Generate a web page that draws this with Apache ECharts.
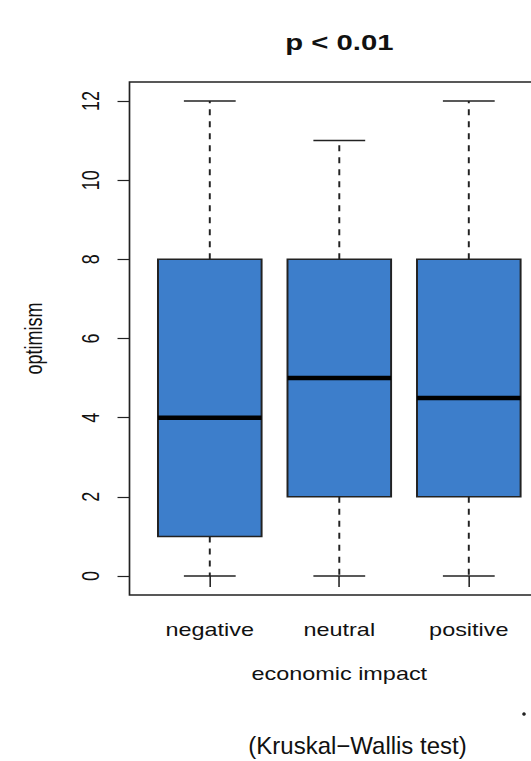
<!DOCTYPE html>
<html>
<head>
<meta charset="utf-8">
<script src="https://cdn.jsdelivr.net/npm/echarts@6/dist/echarts.min.js"></script>
<style>
  html, body { margin: 0; padding: 0; background: #fff; }
  #wrap { width: 531px; height: 761px; overflow: hidden; position: relative; }
  /* The plot is drawn on a narrower canvas and widened, giving the broad R-device look */
  #chart { width: 408px; height: 761px; transform: scaleX(1.30147); transform-origin: 0 0; }
</style>
</head>
<body>
<div id="wrap"><div id="chart"></div></div>
<script>
// Groups on the x axis
const categories = ['negative', 'neutral', 'positive'];
// Five-number summaries of optimism score per group
const whiskerLow = [0, 0, 0];
const quartile1  = [1, 2, 2];
const medians    = [4, 5, 4.5];
const quartile3  = [8, 8, 8];
const whiskerHigh = [12, 11, 12];
// Y axis ticks
const yTicks = [0, 2, 4, 6, 8, 10, 12];

const titleText = 'p < 0.01';
const xTitle = 'economic impact';
const yTitle = 'optimism';
const captionText = '(Kruskal\u2212Wallis test)';

const SX = 531 / 408;           // horizontal widening applied by CSS
const FONT = "'Liberation Sans', Arial, Helvetica, sans-serif";
const INK = '#111';
const BOX_FILL = '#3d7ecb';
const BOX_HALF = 0.4;           // half box width in axis units
const CAP_HALF = 0.2;           // half whisker-cap width

const rows = categories.map((c, i) => [i + 1, whiskerLow[i], quartile1[i], medians[i], quartile3[i], whiskerHigh[i]]);
const xPositions = categories.map((c, i) => i + 1);

const chart = echarts.init(document.getElementById('chart'), null, { renderer: 'svg' });

chart.setOption({
  animation: false,
  backgroundColor: '#fff',
  grid: {
    left: 99.5, top: 82, width: 322.4, height: 513,
    show: true, borderColor: '#222', borderWidth: 1.3, backgroundColor: 'transparent',
    outerBoundsMode: 'none', containLabel: false
  },
  xAxis: {
    type: 'value',
    min: 0.38, max: 3.62,
    name: xTitle, nameLocation: 'middle', nameGap: 70,
    nameTextStyle: { fontFamily: FONT, fontSize: 18, color: INK },
    axisLine: { show: false },
    splitLine: { show: false },
    axisTick: { show: true, customValues: xPositions, length: 11, lineStyle: { color: '#222', width: 1.2 } },
    axisLabel: {
      customValues: xPositions, margin: 26,
      fontFamily: FONT, fontSize: 18, color: INK,
      formatter: v => categories[Math.round(v) - 1] || ''
    }
  },
  yAxis: {
    type: 'value',
    min: -0.48, max: 12.48,
    name: yTitle, nameLocation: 'middle', nameGap: 65, nameRotate: 90,
    nameTextStyle: { fontFamily: FONT, fontSize: 18, color: INK },
    axisLine: { show: false },
    splitLine: { show: false },
    axisTick: { show: true, customValues: yTicks, length: 9.2, lineStyle: { color: '#222', width: 1.2 } },
    axisLabel: {
      customValues: yTicks, rotate: 90, margin: 21,
      fontFamily: FONT, fontSize: 18, color: INK
    }
  },
  series: [{
    type: 'custom',
    data: rows,
    encode: { x: 0, y: [1, 2, 3, 4, 5] },
    clip: false,
    renderItem: function (params, api) {
      const x = api.value(0);
      const lo = api.value(1), q1 = api.value(2), med = api.value(3), q3 = api.value(4), hi = api.value(5);
      const tl = api.coord([x - BOX_HALF, q3]);
      const br = api.coord([x + BOX_HALF, q1]);
      const cLo = api.coord([x, lo]);
      const cHi = api.coord([x, hi]);
      const cQ1 = api.coord([x, q1]);
      const cQ3 = api.coord([x, q3]);
      const mL = api.coord([x - BOX_HALF, med]);
      const mR = api.coord([x + BOX_HALF, med]);
      const capL = api.coord([x - CAP_HALF, lo])[0];
      const capR = api.coord([x + CAP_HALF, lo])[0];
      const dashed = { stroke: '#222', lineWidth: 1.5, lineDash: [6, 6] };
      const solid = { stroke: '#222', lineWidth: 1.5 };
      return {
        type: 'group',
        children: [
          { type: 'line', shape: { x1: cQ3[0], y1: cQ3[1], x2: cHi[0], y2: cHi[1] }, style: dashed },
          { type: 'line', shape: { x1: cQ1[0], y1: cQ1[1], x2: cLo[0], y2: cLo[1] }, style: dashed },
          { type: 'line', shape: { x1: capL, y1: cHi[1], x2: capR, y2: cHi[1] }, style: solid },
          { type: 'line', shape: { x1: capL, y1: cLo[1], x2: capR, y2: cLo[1] }, style: solid },
          { type: 'rect', shape: { x: tl[0], y: tl[1], width: br[0] - tl[0], height: br[1] - tl[1] },
            style: { fill: BOX_FILL, stroke: '#222', lineWidth: 1.5 } },
          { type: 'line', shape: { x1: mL[0], y1: mL[1], x2: mR[0], y2: mR[1] },
            style: { stroke: '#000', lineWidth: 4.5 } }
        ]
      };
    }
  }],
  graphic: [
    { type: 'text', x: 339.4 / SX, y: 42.4,
      style: { text: titleText, font: 'bold 22.5px ' + FONT, fill: INK, textAlign: 'center', textVerticalAlign: 'middle' } },
    { type: 'circle', x: 524 / SX, y: 714, scaleX: 1 / SX, shape: { cx: 0, cy: 0, r: 1.8 }, style: { fill: '#222' } },
    { type: 'text', x: 357.5 / SX, y: 745, scaleX: 1 / SX,
      style: { text: captionText, font: '24px ' + FONT, fill: '#111', textAlign: 'center', textVerticalAlign: 'middle' } }
  ]
});
</script>
</body>
</html>
